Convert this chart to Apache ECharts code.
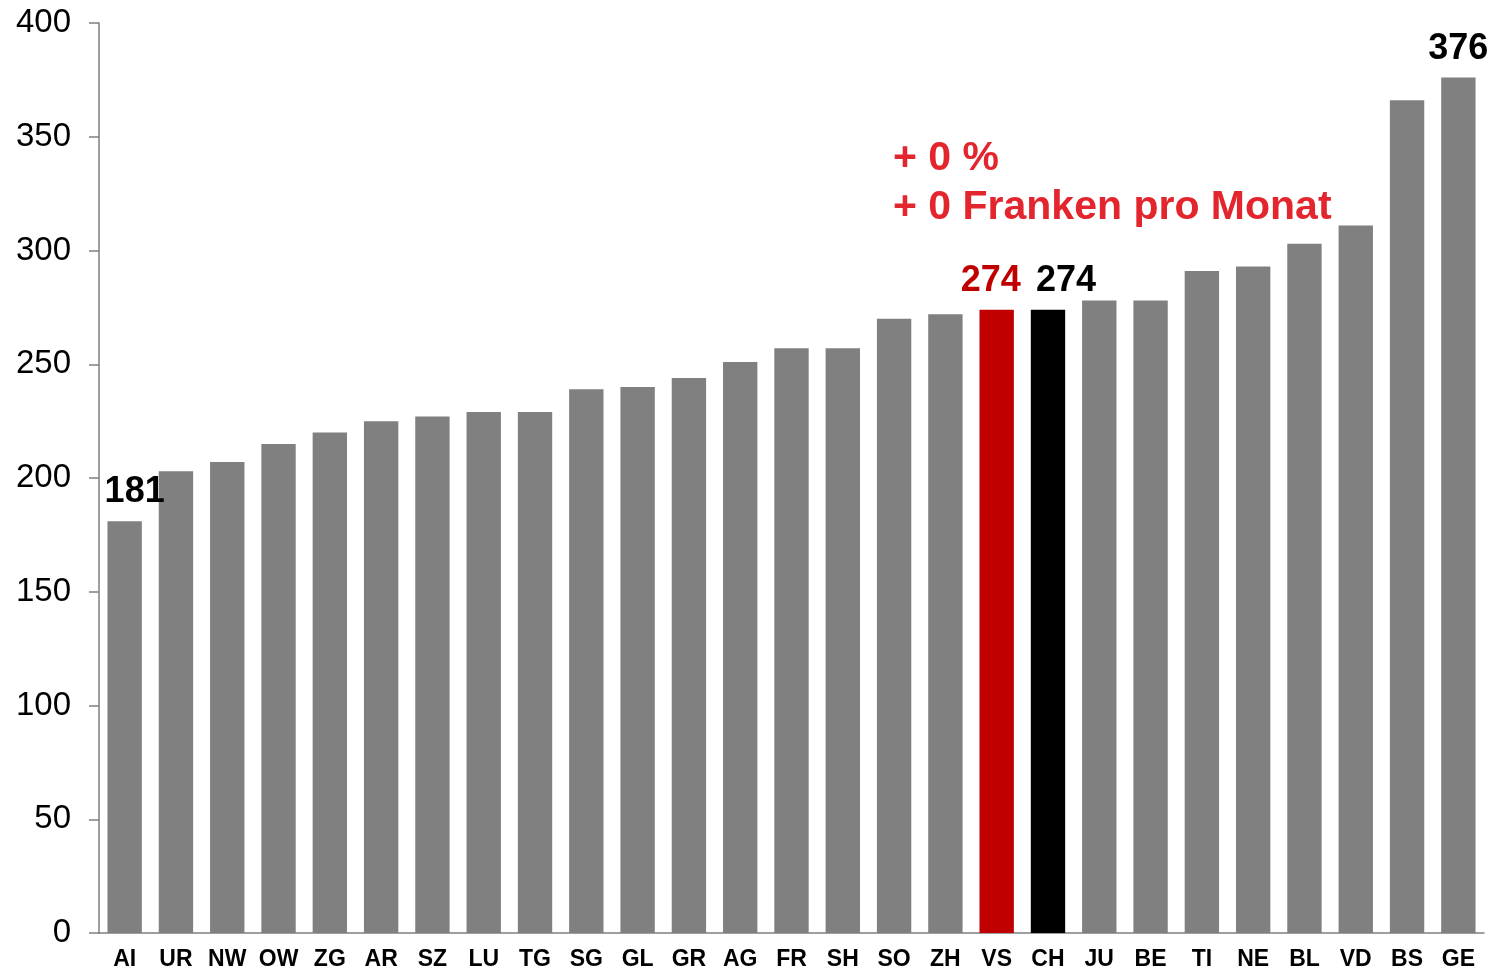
<!DOCTYPE html>
<html>
<head>
<meta charset="utf-8">
<script src="https://cdn.jsdelivr.net/npm/echarts@6/dist/echarts.min.js"></script>
<style>
html, body { margin: 0; padding: 0; background: #fff; }
#chart { width: 1497px; height: 971px; }
</style>
</head>
<body>
<div id="chart"></div>
<script>
// Kantone und Werte
var cantons = ['AI', 'UR', 'NW', 'OW', 'ZG', 'AR', 'SZ', 'LU', 'TG', 'SG', 'GL', 'GR', 'AG', 'FR', 'SH',
	'SO', 'ZH', 'VS', 'CH', 'JU', 'BE', 'TI', 'NE', 'BL', 'VD', 'BS', 'GE'];
var values = [181, 203, 207, 215, 220, 225, 227, 229, 229, 239, 240, 244, 251, 257, 257,
	270, 272, 274, 274, 278, 278, 291, 293, 303, 311, 366, 376];
var yTicks = [0, 50, 100, 150, 200, 250, 300, 350, 400];
// beschriftete Balken
var labelled = ['AI', 'VS', 'CH', 'GE'];
var noteLines = ['+ 0 %', '+ 0 Franken pro Monat'];

var byId = function(id) {
	return document.getElementById(id);
};

var barColor = function(name) {
	if (name == 'VS') return '#c00000';
	if (name == 'CH') return '#000000';
	return '#808080';
};

var labelOffset = function(name) {
	if (name == 'AI') return [10, 0];
	if (name == 'VS') return [-6, 0];
	if (name == 'CH') return [18, 0];
	return [0, 0];
};

var data = [];
for (var i = 0; i < cantons.length; i++) {
	var item = {
		value: values[i],
		itemStyle: { color: barColor(cantons[i]) }
	};
	if (labelled.indexOf(cantons[i]) >= 0) {
		item.label = {
			show: true,
			position: 'top',
			distance: 11,
			color: cantons[i] == 'VS' ? '#c00000' : '#000000',
			offset: labelOffset(cantons[i])
		};
	}
	data.push(item);
}

var chart = echarts.init(byId('chart'));
chart.setOption({
	animation: false,
	grid: {
		left: 99,
		right: 13,
		top: 23,
		bottom: 38
	},
	xAxis: [{
		type: 'category',
		data: cantons,
		axisLine: { lineStyle: { color: '#7f7f7f', width: 1.5 } },
		axisTick: { length: 8, lineStyle: { color: '#7f7f7f', width: 1.5 } },
		axisLabel: {
			interval: 0,
			margin: 15,
			fontFamily: 'Liberation Sans',
			fontWeight: 'bold',
			fontSize: 23,
			color: '#000'
		}
	}],
	yAxis: [{
		type: 'value',
		min: yTicks[0],
		max: yTicks[yTicks.length - 1],
		interval: 50,
		splitLine: { show: false },
		axisLine: { show: true, lineStyle: { color: '#7f7f7f', width: 1.5 } },
		axisTick: { show: true, length: 10, lineStyle: { color: '#7f7f7f', width: 1.5 } },
		axisLabel: {
			margin: 28,
			fontFamily: 'Liberation Sans',
			fontSize: 33,
			color: '#000'
		}
	}],
	series: [{
		type: 'bar',
		barCategoryGap: '33%',
		data: data,
		label: {
			fontFamily: 'Liberation Sans',
			fontWeight: 'bold',
			fontSize: 36,
			formatter: '{c}'
		}
	}],
	graphic: [{
		type: 'text',
		left: 893,
		top: 134,
		style: {
			text: noteLines.join('\n'),
			fill: '#e3262e',
			font: 'bold 41px "Liberation Sans"',
			lineHeight: 49
		}
	}]
});
</script>
</body>
</html>
